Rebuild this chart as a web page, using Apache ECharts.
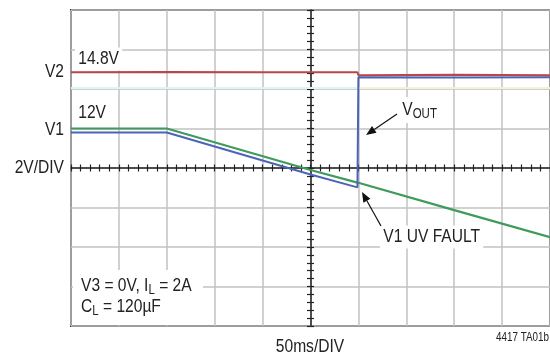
<!doctype html>
<html>
<head>
    <meta http-equiv="Content-Type" content="text/html; charset=utf-8">
    <title>V1 UV fault</title>
    <script src="https://cdn.jsdelivr.net/npm/echarts@6/dist/echarts.min.js"></script>
    <style>
        body{margin:0;padding:0;background:#fff;}
    </style>
</head>
<body>
<div id="scope" style="position:relative;width: 550px;height: 356px;"></div>
<script type="text/javascript">
    // time in ms (50ms/DIV), voltage in V (2V/DIV)
    var timeTicks = [0, 50, 100, 150, 200, 250, 300, 350, 400, 450, 500];
    var v2Trace   = [[0, 14.85], [100, 14.86], [200, 14.85], [299, 14.85], [300, 14.7], [400, 14.72], [500, 14.7]];
    var voutTrace = [[0, 11.8], [100, 11.8], [250, 9.67], [299, 9.02], [300, 9.0], [300, 14.6], [400, 14.58], [500, 14.6]];
    var v1Trace   = [[0, 12.0], [100, 12.0], [250, 9.9], [300, 9.25], [400, 7.87], [500, 6.5]];
    var v3Before  = [[0, 14.05], [300, 14.05]];
    var v3After   = [[300, 14.05], [500, 14.05]];

    var FONT = "'Liberation Sans', Arial, sans-serif";
    var NARROW = 0.82;  // condensed look of the original lettering

    function arrow(x1, y1, x2, y2) {
        // line from (x1,y1) to head at (x2,y2)
        var a = Math.atan2(y2 - y1, x2 - x1), len = 10, w = 4;
        var bx = x2 - len * Math.cos(a), by = y2 - len * Math.sin(a);
        return [
            {type: 'line', z: 20, shape: {x1: x1, y1: y1, x2: bx, y2: by}, style: {stroke: '#111', lineWidth: 1.2}},
            {type: 'polygon', z: 20, shape: {points: [[x2, y2],
                [bx + w * Math.sin(a), by - w * Math.cos(a)],
                [bx - w * Math.sin(a), by + w * Math.cos(a)]]}, style: {fill: '#111'}}
        ];
    }

    function label(x, y, text, align, size, bg) {
        return {
            type: 'text', z: 15, x: x, y: y, scaleX: NARROW,
            style: {
                text: text, fill: '#222', font: (size || 19) + 'px ' + FONT,
                align: align || 'left', verticalAlign: 'middle',
                backgroundColor: bg ? '#fff' : 'transparent', padding: bg ? [2, 4] : 0
            }
        };
    }

    function subText(x, y, text, bg) {
        return {
            type: 'text', z: 15, x: x, y: y, scaleX: NARROW,
            style: {
                rich: {
                    v: {font: '19px ' + FONT, fill: '#222'},
                    s: {font: '14px ' + FONT, fill: '#222', padding: [8, 0, 0, 0]}
                },
                text: text, verticalAlign: 'middle',
                backgroundColor: bg ? '#fff' : 'transparent', padding: bg ? [2, 4] : 0
            }
        };
    }

    var crossTick = {show: true, length: 3.5, lineStyle: {color: '#222', width: 1.2}};
    var gridLine = {show: true, lineStyle: {color: '#c2c2c2', width: 1.5}};
    var hidden = {show: false};

    var graphics = [
        label(64, 72, 'V2', 'right'),
        label(64, 130, 'V1', 'right'),
        label(64, 168, '2V/DIV', 'right'),
        label(75, 59, '14.8V', 'left', 19, true),
        label(75, 113, '12V', 'left', 19, true),
        subText(399, 110, '{v|V}{s|OUT}', true),
        label(380, 237, 'V1 UV FAULT', 'left', 19, true),
        {type: 'rect', z: 14, shape: {x: 73, y: 270, width: 130, height: 55}, style: {fill: '#fff'}},
        subText(81, 286, '{v|V3 = 0V, I}{s|L}{v| = 2A}', false),
        subText(81, 307, '{v|C}{s|L}{v| = 120µF}', false),
        label(310, 347, '50ms/DIV', 'center'),
        label(549, 338, '4417 TA01b', 'right', 12)
    ].concat(arrow(397, 114, 366, 135), arrow(381, 226, 362, 192));

    var myChart = echarts.init(document.getElementById("scope"));
    var option = {
        animation: false,
        backgroundColor: '#fff',
        grid: {left: 71, top: 10, width: 480, height: 316, show: true, borderColor: '#333', borderWidth: 2, backgroundColor: '#fff'},
        xAxis: [
            {
                type: 'value', min: timeTicks[0], max: timeTicks[timeTicks.length - 1], interval: 50,
                axisLine: hidden, axisTick: hidden, axisLabel: hidden, splitLine: gridLine
            },
            {
                type: 'value', min: -250, max: 250, interval: 50, position: 'bottom',
                axisLine: {show: true, onZero: true, onZeroAxisIndex: 1, lineStyle: {color: '#222', width: 1.5}},
                axisTick: crossTick, minorTick: {show: true, splitNumber: 5, length: 3.5, lineStyle: {color: '#222', width: 1.2}},
                axisLabel: hidden, splitLine: hidden
            },
            {
                type: 'value', min: -250, max: 250, interval: 50, position: 'bottom',
                axisLine: {show: false, onZero: true, onZeroAxisIndex: 1},
                axisTick: {show: true, inside: true, length: 3.5, lineStyle: {color: '#222', width: 1.2}},
                minorTick: {show: true, splitNumber: 5, length: 3.5, lineStyle: {color: '#222', width: 1.2}},
                axisLabel: hidden, splitLine: hidden
            }
        ],
        yAxis: [
            {
                type: 'value', min: 2, max: 18, interval: 2,
                axisLine: hidden, axisTick: hidden, axisLabel: hidden, splitLine: gridLine
            },
            {
                type: 'value', min: -4, max: 4, interval: 1, position: 'left',
                axisLine: {show: true, onZero: true, onZeroAxisIndex: 1, lineStyle: {color: '#222', width: 1.5}},
                axisTick: crossTick, minorTick: {show: true, splitNumber: 5, length: 3.5, lineStyle: {color: '#222', width: 1.2}},
                axisLabel: hidden, splitLine: hidden
            },
            {
                type: 'value', min: -4, max: 4, interval: 1, position: 'left',
                axisLine: {show: false, onZero: true, onZeroAxisIndex: 1},
                axisTick: {show: true, inside: true, length: 3.5, lineStyle: {color: '#222', width: 1.2}},
                minorTick: {show: true, splitNumber: 5, length: 3.5, lineStyle: {color: '#222', width: 1.2}},
                axisLabel: hidden, splitLine: hidden
            }
        ],
        series: [
            {type: 'line', data: v3Before, symbol: 'none', lineStyle: {color: '#dff4f5', width: 2}},
            {type: 'line', data: v3After, symbol: 'none', lineStyle: {color: '#f5f2d2', width: 2}},
            {type: 'line', data: v1Trace, symbol: 'none', lineStyle: {color: '#3f9a5c', width: 2.2}},
            {type: 'line', data: voutTrace, symbol: 'none', lineStyle: {color: '#4c63b8', width: 2}},
            {type: 'line', data: v2Trace, symbol: 'none', lineStyle: {color: '#b8474a', width: 2}}
        ],
        graphic: graphics
    };

    myChart.setOption(option);
</script>
</body>
</html>
